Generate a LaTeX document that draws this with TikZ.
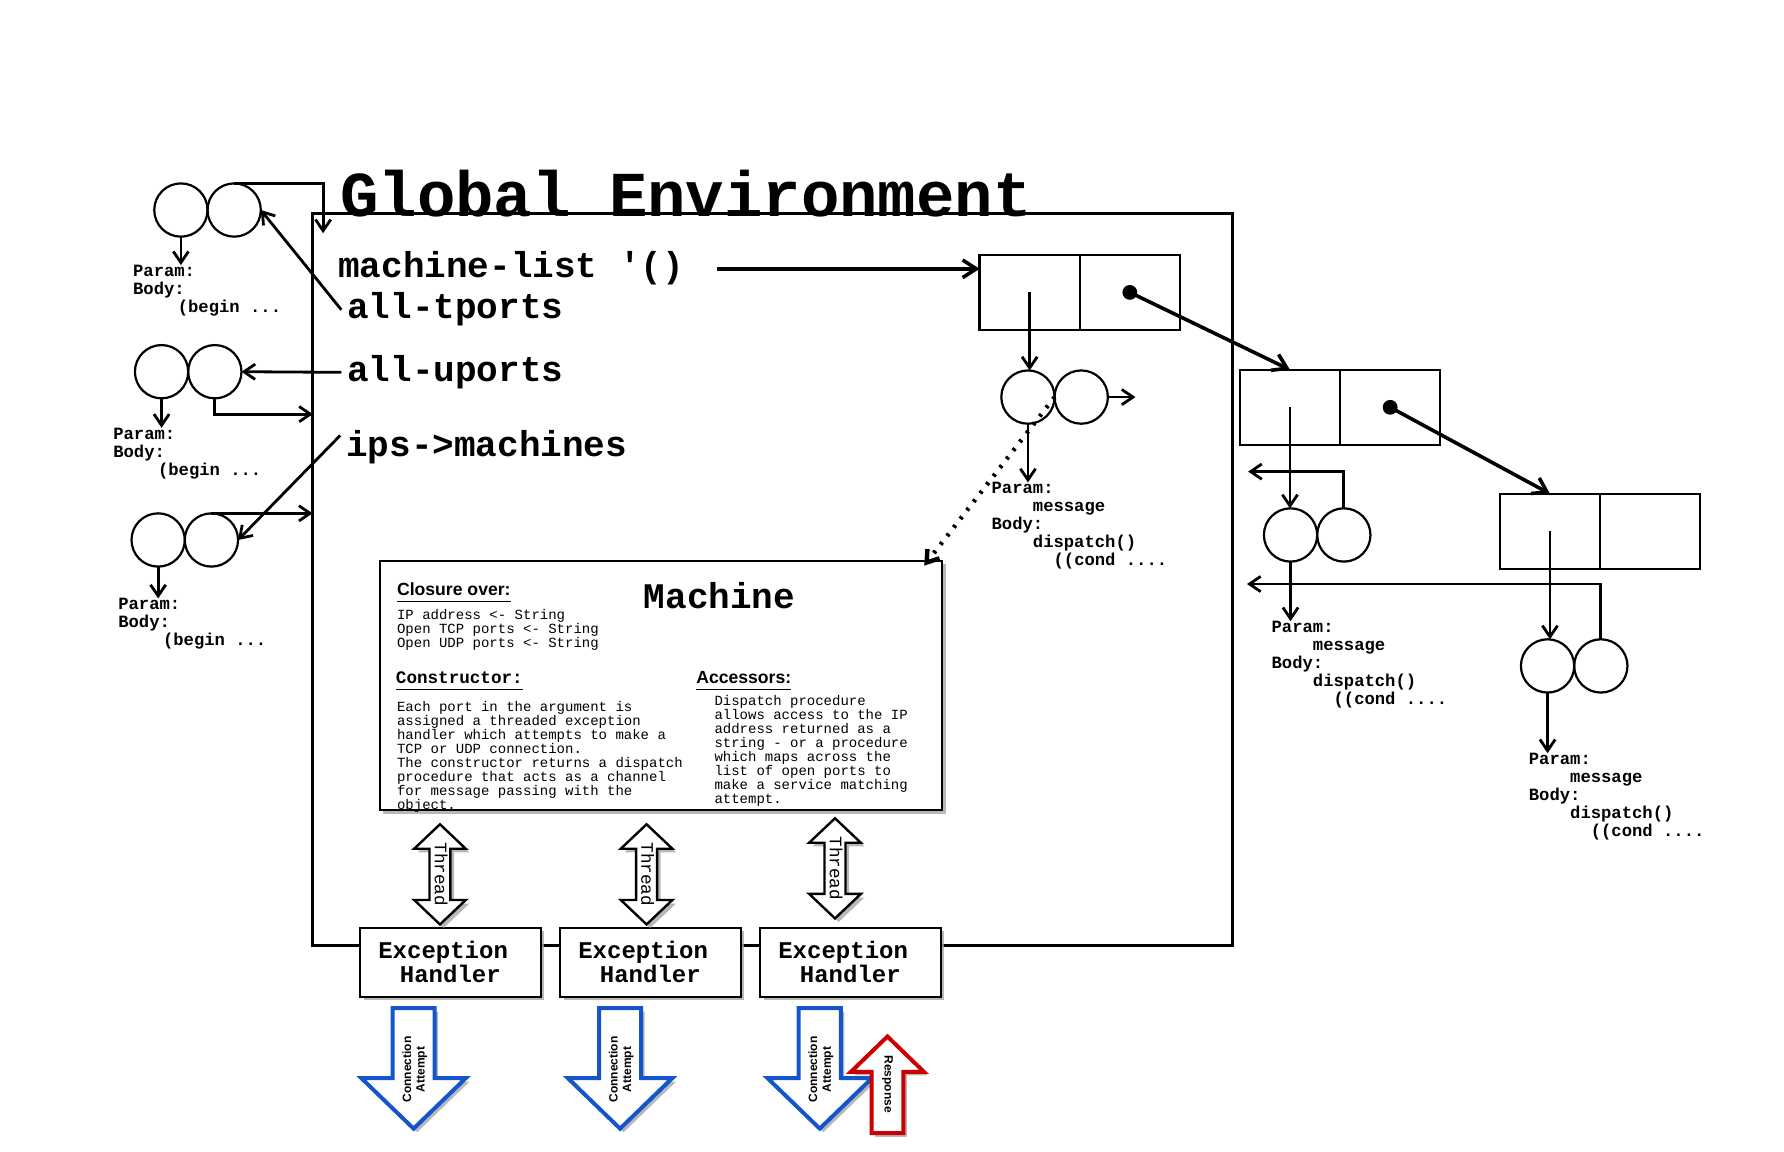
\documentclass[tikz,border=0pt]{standalone}
\usepackage{fontspec}
\setmonofont{Liberation Mono}
\setsansfont{Liberation Sans}
\usetikzlibrary{positioning, arrows.meta, shadows}
\definecolor{ConnBlue}{RGB}{20,85,204}
\definecolor{RespRed}{RGB}{204,0,0}
\newcommand\titlefont{\fontsize{16}{18}\selectfont\ttfamily\bfseries}
\newcommand\varfont{\fontsize{9}{10}\selectfont\ttfamily\bfseries}
\newcommand\codefont{\fontsize{4.3}{4.5}\selectfont\ttfamily\bfseries}
\newcommand\notefont{\fontsize{3.5}{3.5}\selectfont\ttfamily}
\newcommand\headfont{\fontsize{4.4}{5}\selectfont\sffamily\bfseries}
\newcommand\subfont{\fontsize{4.4}{5}\selectfont\ttfamily\bfseries}
\newcommand\exfont{\fontsize{6}{6}\selectfont\ttfamily\bfseries}
\newcommand\threadfont{\fontsize{4.4}{5}\selectfont\ttfamily}
\newcommand\tagfont{\fontsize{3}{3.4}\selectfont\sffamily\bfseries}

\begin{document}
\begin{tikzpicture}[x=0.01cm, y=-0.01cm,
    every node/.style={inner sep=0pt, outer sep=0pt},
    fcirc/.style={circle, draw, line width=0.55pt, minimum size=0.468cm},
    cellbox/.style={rectangle, draw, line width=0.55pt, minimum width=0.88cm, minimum height=0.66cm},
    pdot/.style={circle, fill, minimum size=0.13cm},
    vartxt/.style={font=\varfont, inner sep=1.5pt, text height=6.2pt, text depth=1.8pt, anchor=base west},
    codetxt/.style={font=\codefont, align=left, anchor=north west},
    notetxt/.style={font=\notefont, align=left, anchor=north west},
    ptr/.style={-{Straight Barb[length=2.8pt,width=3.8pt]}, line width=0.7pt},
    bigptr/.style={-{Straight Barb[length=3.4pt,width=4.4pt]}, line width=0.9pt},
    shadowed/.style={drop shadow={shadow xshift=0.9pt, shadow yshift=-0.9pt, fill=black!35, opacity=0.8}},
    handlerbox/.style={rectangle, draw, line width=0.55pt, fill=white, shadowed,
                       minimum width=1.588cm, minimum height=0.607cm, font=\exfont, align=center}
  ]
  \useasboundingbox (0,0) rectangle (1568,1012);

  % global environment frame
  \node[draw, line width=0.6pt, minimum width=8.08cm, minimum height=6.43cm] (genv) at (679,509.5) {};
  \node[font=\titlefont, anchor=base west] (title) at (299,190) {Global Environment};

  \node[vartxt] (mlist) at (292,244) {machine-list \textquotesingle()};
  \node[vartxt] (tports) at (300,280) {all-tports};
  \node[vartxt] (uports) at (300,335) {all-uports};
  \node[vartxt] (ips) at (299,401) {ips->machines};

  % left procedures
  \node[fcirc] (fa1) at (159,184.6) {};
  \node[fcirc, right=0pt of fa1] (fa2) {};
  \node[codetxt] (pa) at (117,233) {Param:\\Body:\\\hspace*{2.6em}(begin ...};

  \node[fcirc] (fb1) at (142,326.7) {};
  \node[fcirc, right=0pt of fb1] (fb2) {};
  \node[codetxt] (pb) at (99.6,376) {Param:\\Body:\\\hspace*{2.6em}(begin ...};

  \node[fcirc] (fc1) at (139,474.6) {};
  \node[fcirc, right=0pt of fc1] (fc2) {};
  \node[codetxt] (pc) at (104,526) {Param:\\Body:\\\hspace*{2.6em}(begin ...};

  \coordinate (ea) at (284,205);
  \coordinate (eb) at (275,364);
  \draw[ptr] (fa2.north) -| (ea);
  \draw[ptr] (fa1.south) -- (fa1.south |- pa.north);
  \draw[ptr] (tports.west) -- (fa2.east);
  \draw[ptr] (uports.west) -- (fb2.east);
  \draw[ptr] (fb2.south) |- (eb);
  \draw[ptr] (fb1.south) -- (fb1.south |- pb.north);
  \draw[ptr] (fc2.north) -- (fc2.north -| genv.west);
  \draw[ptr] ([yshift=3pt]ips.west) -- (fc2.east);
  \draw[ptr] (fc1.south) -- (fc1.south |- pc.north);

  % machine list cells
  \node[cellbox] (c1a) at (905,257) {};
  \node[cellbox, right=0pt of c1a] (c1b) {};
  \node[pdot] (d1) at (c1b.center) {};
  \node[cellbox] (c2a) at (1133.8,358) {};
  \node[cellbox, right=0pt of c2a] (c2b) {};
  \node[pdot] (d2) at (c2b.center) {};
  \node[cellbox] (c3a) at (1362.3,467) {};
  \node[cellbox, right=0pt of c3a] (c3b) {};

  \node[fcirc] (fm1) at (903.5,349) {};
  \node[fcirc, right=0pt of fm1] (fm2) {};
  \node[codetxt] (pm) at (871.6,424) {Param:\\\hspace*{2.4em}message\\Body:\\\hspace*{2.4em}dispatch()\\\hspace*{3.6em}((cond ....};
  \node[fcirc] (fd1) at (1134.3,470.2) {};
  \node[fcirc, right=0pt of fd1] (fd2) {};
  \node[codetxt] (pd) at (1117.7,546) {Param:\\\hspace*{2.4em}message\\Body:\\\hspace*{2.4em}dispatch()\\\hspace*{3.6em}((cond ....};
  \node[fcirc] (fe1) at (1360.2,585.3) {};
  \node[fcirc, right=0pt of fe1] (fe2) {};
  \node[codetxt] (pe) at (1343.8,662) {Param:\\\hspace*{2.4em}message\\Body:\\\hspace*{2.4em}dispatch()\\\hspace*{3.6em}((cond ....};

  \coordinate (em) at (998,349);
  \coordinate (ed) at (1097,414.5);
  \coordinate (ee) at (1096,513.3);
  \draw[bigptr] ([xshift=6.8pt]mlist.east) -- (mlist.east -| c1a.west);
  \draw[bigptr] (d1.center) -- (c2a.north);
  \draw[bigptr] (d2.center) -- (c3a.north);
  \draw[ptr] (c1a.center) -- (c1a.center |- fm1.north);
  \draw[ptr] (fm2.east) -- (em);
  \draw[ptr] (fm1.south) -- (fm1.south |- pm.north);
  \draw[ptr] (c2a.center) -- (c2a.center |- fd1.north);
  \draw[ptr] (fd2.north) |- (ed);
  \draw[ptr] (fd1.south) -- (fd1.south |- pd.north);
  \draw[ptr] (c3a.center) -- (c3a.center |- fe1.north);
  \draw[ptr] (fe2.north) |- (ee);
  \draw[ptr] (fe1.south) -- (fe1.south |- pe.north);

  % machine closure
  \node[draw, line width=0.6pt, fill=white, shadowed, minimum width=4.94cm, minimum height=2.19cm] (mach) at (581,602.5) {};
  \coordinate (tipm) at ([shift={(-4.5pt,-1.2pt)}]mach.north east);
  \draw[ptr, dotted, line width=1.1pt] (fm1.east) -- (tipm);

  \node[font=\headfont, anchor=base west] (clos) at (349,523.5) {\underline{Closure over:}};
  \node[font=\varfont, anchor=base west] (mtitle) at (566,535) {Machine};
  \node[notetxt] (closl) at (349,536) {IP address <- String\\Open TCP ports <- String\\Open UDP ports <- String};
  \node[font=\subfont, anchor=base west] (cons) at (348,601) {\underline{Constructor:}};
  \node[notetxt] (consl) at (349,616) {Each port in the argument is\\assigned a threaded exception\\handler which attempts to make a\\TCP or UDP connection.\\The constructor returns a dispatch\\procedure that acts as a channel\\for message passing with the\\object.};
  \node[font=\headfont, anchor=base west] (acc) at (612,601) {\underline{Accessors:}};
  \node[notetxt] (accl) at (628,611) {Dispatch procedure\\allows access to the IP\\address returned as a\\string - or a procedure\\which maps across the\\list of open ports to\\make a service matching\\attempt.};

  % exception handlers and threads
  \foreach \i/\x in {1/395.8, 2/571.6, 3/747.4}
    \node[handlerbox] (h\i) at (\x,845.7) {Exception\hphantom{x}\\Handler};

  \foreach \i/\x/\y in {1/386.7/724.5, 2/568.3/724.5, 3/733.9/719.2} {
    \draw[line width=0.6pt, fill=white, shadowed] (\x,\y) -- (\x+22.7,\y+21.5) -- (\x+9.2,\y+21.5)
      -- (\x+9.2,\y+66.5) -- (\x+22.7,\y+66.5) -- (\x,\y+88) -- (\x-22.7,\y+66.5)
      -- (\x-9.2,\y+66.5) -- (\x-9.2,\y+21.5) -- (\x-22.7,\y+21.5) -- cycle;
    \node[font=\threadfont, rotate=-90] (t\i) at (\x+1,\y+44) {Thread};
  }

  \foreach \i/\x in {1/363.5, 2/545, 3/720.5} {
    \draw[draw=ConnBlue, line width=1pt, fill=white, shadowed] (\x-18.5,886) -- (\x+18.5,886)
      -- (\x+18.5,947.5) -- (\x+46,947.5) -- (\x,992) -- (\x-46,947.5) -- (\x-18.5,947.5) -- cycle;
    \node[font=\tagfont, align=center, rotate=90] (ca\i) at (\x+1,940) {Connection\\Attempt};
  }

  \draw[draw=RespRed, line width=1pt, fill=white, shadowed] (780,911) -- (812,942) -- (794,942)
    -- (794,996) -- (766,996) -- (766,942) -- (748,942) -- cycle;
  \node[font=\tagfont, rotate=-90] (resp) at (780,953) {Response};
\end{tikzpicture}
\end{document}
